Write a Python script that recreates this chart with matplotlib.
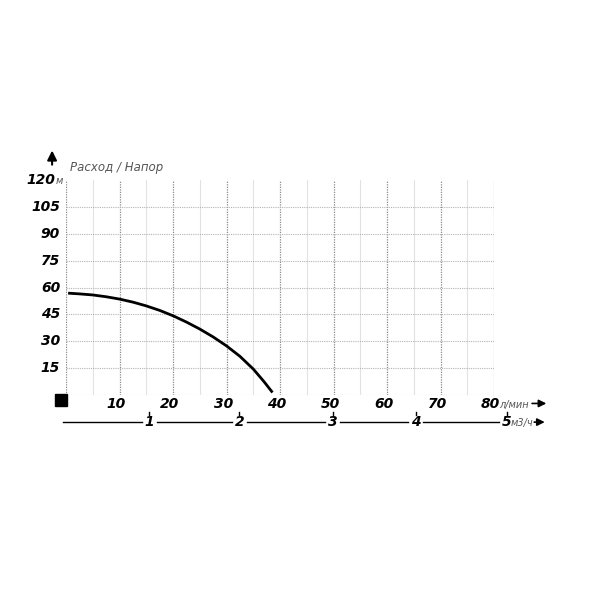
import numpy as np
import matplotlib.pyplot as plt

# Кривая насоса: расход (л/мин) -> напор (м)
flow_lpm = [0.4, 2.5, 5, 7.5, 10, 12.5, 15, 17.5, 20, 22.5, 25, 27.5, 30, 32.5,
            35, 37, 38.6]
head_m = [56.9, 56.5, 55.9, 54.9, 53.6, 51.9, 49.8, 47.3, 44.3, 40.8, 36.9, 32.5,
          27.5, 21.7, 14.6, 7.6, 1.5]

x_ticks = [10, 20, 30, 40, 50, 60, 70, 80]
y_ticks = [15, 30, 45, 60, 75, 90, 105]
m3h_labels = ["1", "2", "3", "4", "5"]
m3h_pos = [15.6, 32.4, 49.9, 65.4, 82.4]  # положение на шкале л/мин

plt.rcParams['font.family'] = ['DejaVu Sans']

fig = plt.figure(figsize=(6, 6), dpi=100)
ax = fig.add_axes([66 / 600, 204.8 / 600, 428 / 600, 215.2 / 600])
ax.set_xlim(0, 80)
ax.set_ylim(0, 120)
for s in ax.spines.values():
    s.set_visible(False)
ax.set_xticks([])
ax.set_yticks([])

# сетка
for x in range(5, 80, 10):
    ax.axvline(x, color="#e2e2e2", lw=0.8, zorder=1)
for x in range(0, 81, 10):
    ax.axvline(x, color="#8a8a8a", lw=0.9, ls=(0, (1, 1)), zorder=2)
for y in [0] + y_ticks:
    ax.axhline(y, color="#b4b4b4", lw=0.8, ls=(0, (1, 1)), zorder=2)

ax.plot(flow_lpm, head_m, color="black", lw=2.0, zorder=5,
        solid_joinstyle="round", solid_capstyle="butt")

bold_it = dict(fontweight="bold", fontstyle="italic", fontsize=10, color="black")

# подписи оси Y
for y in y_ticks:
    ax.text(-1.1, y, str(y), ha="right", va="center", clip_on=False, **bold_it)
ax.text(-2.0, 120, "120", ha="right", va="center", clip_on=False, **bold_it)
ax.text(-2.0, 119.5, "м", ha="left", va="center", fontsize=7, fontstyle="italic",
        color="#555555", clip_on=False)

# стрелка вверх и заголовок
ax.annotate("", xy=(-2.6, 138), xytext=(-2.6, 127),
            arrowprops=dict(arrowstyle="-|>", color="black", lw=1.5,
                            mutation_scale=14), annotation_clip=False)
ax.text(0.75, 127, "Расход / Напор", ha="left", va="center", fontsize=8.5,
        fontstyle="italic", color="#555555", clip_on=False)

# черный квадрат в начале координат
ax.plot([-0.9], [-2.7], marker="s", ms=8, color="black", clip_on=False)

# подписи оси X (л/мин)
for x in x_ticks:
    ax.text(x - 0.6, -5, str(x), ha="center", va="center", clip_on=False, **bold_it)
ax.text(80.9, -5.2, "л/мин", ha="left", va="center", fontsize=7, fontstyle="italic",
        color="#555555", clip_on=False)
ax.annotate("", xy=(90.3, -4.6), xytext=(86.6, -4.6),
            arrowprops=dict(arrowstyle="-|>", color="black", lw=1.2,
                            mutation_scale=11), annotation_clip=False)

# вторая шкала (м3/ч)
y2 = -15
seg_start = -0.5
for lab, pos in zip(m3h_labels, m3h_pos):
    ax.plot([seg_start, pos - 1.4], [y2, y2], color="black", lw=1.0, clip_on=False)
    ax.plot([pos, pos], [-9.6, -10.9], color="black", lw=1.0, clip_on=False)
    ax.text(pos, y2, lab, ha="center", va="center", clip_on=False, **bold_it)
    seg_start = pos + 1.4
ax.text(83.2, y2 - 0.3, "м3/ч", ha="left", va="center", fontsize=7, fontstyle="italic",
        color="#555555", clip_on=False)
ax.annotate("", xy=(90.0, y2), xytext=(87.0, y2),
            arrowprops=dict(arrowstyle="-|>", color="black", lw=1.2,
                            mutation_scale=11), annotation_clip=False)

fig.savefig("out.png", dpi=100, facecolor="white")
